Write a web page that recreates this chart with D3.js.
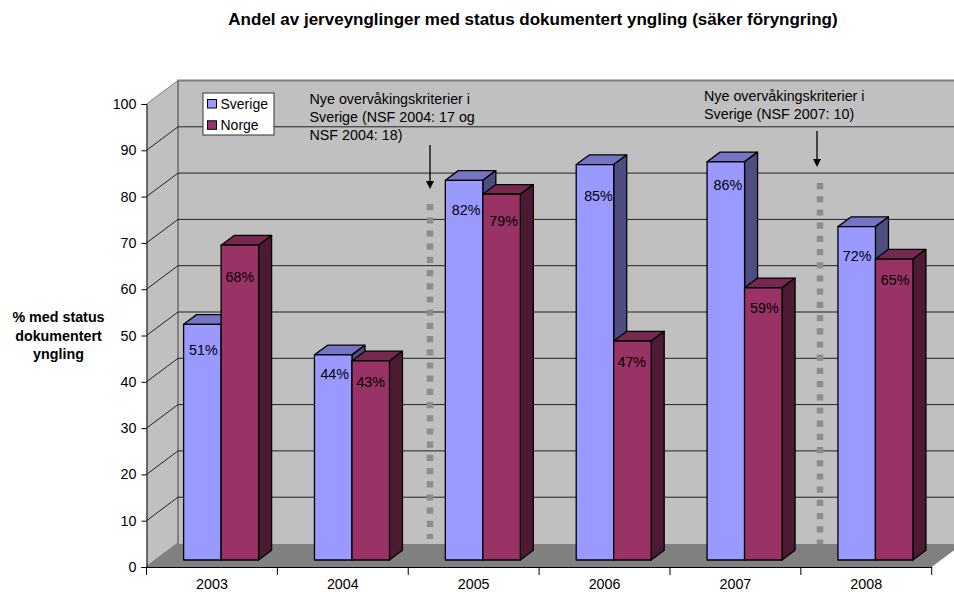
<!DOCTYPE html>
<html><head><meta charset="utf-8">
<script src="https://cdn.jsdelivr.net/npm/d3@7"></script>
<style>
html,body{margin:0;padding:0;background:#fff}
svg{display:block}
text{font-family:"Liberation Sans",Arial,sans-serif;fill:#000}
</style></head><body><div id="c"></div>
<script>
const years = ["2003","2004","2005","2006","2007","2008"];
const sverige = [50.9,44.3,82,85.4,86,72];
const norge = [68,43,79,47.3,58.8,65];
const seriesNames = ["Sverige","Norge"];
const yTicks = [0,10,20,30,40,50,60,70,80,90,100];
const title = "Andel av jerveynglinger med status dokumentert yngling (säker föryngring)";
const yTitle = ["% med status","dokumentert","yngling"];
const note1 = ["Nye overvåkingskriterier i","Sverige (NSF 2004: 17 og","NSF 2004: 18)"];
const note2 = ["Nye overvåkingskriterier i","Sverige (NSF 2007: 10)"];

const W=954,H=592;
const svg=d3.select("#c").append("svg").attr("width",W).attr("height",H);
const FS=14.3;
const y=d3.scaleLinear().domain([0,100]).range([567,104]);
const x=d3.scaleBand().domain(years).range([146.5,931.7]);
const DX=31.5,DY=-23.5;
const unit=y(0)-y(1);

// walls
const left=x.range()[0],right=x.range()[1];
svg.append("path").attr("d",`M${left},${y(0)}L${left+DX},${y(0)+DY}L${right+DX},${y(0)+DY}L${right},${y(0)}Z`).attr("fill","#808080");
svg.append("path").attr("d",`M${left},${y(0)}L${left},${y(100)}L${left+DX},${y(100)+DY}L${left+DX},${y(0)+DY}Z`).attr("fill","#c0c0c0");
svg.append("rect").attr("x",left+DX).attr("y",y(100)+DY).attr("width",right-left).attr("height",y(0)-y(100)).attr("fill","#c0c0c0");
svg.append("path").attr("d",`M${left},${y(0)}L${left+DX},${y(0)+DY}V${y(100)+DY}H${right+DX}`).attr("fill","none").attr("stroke","#808080").attr("stroke-width",2);
svg.append("path").attr("d",`M${left},${y(100)}L${left+DX},${y(100)+DY}`).attr("stroke","#808080").attr("stroke-width",1);

// gridlines
const grid=yTicks.filter(d=>d>0&&d<100);
svg.append("g").selectAll("path").data(grid).join("path")
  .attr("d",d=>`M${left},${y(d)}L${left+DX},${y(d)+DY}H${right+DX}`)
  .attr("fill","none").attr("stroke","#222").attr("stroke-width",1);

// dotted separators
[[430,204,539],[820,183,544]].forEach(([lx,a,b])=>{
  svg.append("line").attr("x1",lx).attr("x2",lx).attr("y1",a).attr("y2",b)
    .attr("stroke","#8c8c8c").attr("stroke-width",6.5).attr("stroke-dasharray","6.2 7");
});

// 3D bars
const inset=27.5+9.6, bw=37.5, baseY=560, dx=13, dy=-9.7;
const cols={Sverige:["#9999ff","#7575c4","#4d4d80"],Norge:["#993366","#772850","#4d1a33"]};
const bars=g=>g.attr("stroke","#000").attr("stroke-width",1.3).attr("stroke-linejoin","round");
const labelDrop={Sverige:[26,19,30,31,23,29],Norge:[32,21,27,21,20,21]};
const labelShift={Sverige:[1,1.5,2,3.5,2,0.5],Norge:[0,0,2,-0.7,1,1]};
const layer=svg.append("g");
years.forEach((yr,i)=>{
  [["Sverige",sverige[i],0],["Norge",norge[i],1]].forEach(([name,v,k])=>{
    const x0=x(yr)+inset+k*bw, top=baseY-v*unit, c=cols[name];
    const g=layer.append("g").call(bars);
    g.append("path").attr("d",`M${x0},${top}l${dx},${dy}h${bw}l${-dx},${-dy}Z`).attr("fill",c[1]);
    g.append("path").attr("d",`M${x0+bw},${top}l${dx},${dy}V${baseY+dy}l${-dx},${-dy}Z`).attr("fill",c[2]);
    g.append("rect").attr("x",x0).attr("y",top).attr("width",bw).attr("height",baseY-top).attr("fill",c[0]);
  });
});
years.forEach((yr,i)=>{
  [["Sverige",sverige[i],0],["Norge",norge[i],1]].forEach(([name,v,k])=>{
    const x0=x(yr)+inset+k*bw, top=baseY-v*unit;
    svg.append("text").attr("x",x0+bw/2+labelShift[name][i]).attr("y",top+labelDrop[name][i]+5)
      .attr("text-anchor","middle").attr("font-size",FS).text(Math.round(v)+"%");
  });
});

// axes
const axY=d3.axisLeft(y).tickValues(yTicks).tickSize(5).tickPadding(5);
const gy=svg.append("g").attr("transform",`translate(${left},0)`).call(axY);
gy.selectAll("text").attr("font-size",FS).attr("font-family",null);
gy.selectAll("path,line").attr("stroke","#000");
const axX=d3.axisBottom(x).tickSize(0).tickPadding(12).tickSizeOuter(0);
const gx=svg.append("g").attr("transform",`translate(0,${y(0)})`).call(axX);
gx.selectAll("text").attr("font-size",FS).attr("font-family",null);
gx.selectAll("path").attr("stroke","#000");
svg.append("g").selectAll("line").data(d3.range(years.length+1)).join("line")
  .attr("x1",i=>left+i*x.step()).attr("x2",i=>left+i*x.step()).attr("y1",y(0)).attr("y2",y(0)+8).attr("stroke","#000");

// titles
svg.append("text").attr("x",533).attr("y",25).attr("text-anchor","middle").attr("font-size",17).attr("font-weight","bold").text(title);
svg.append("g").selectAll("text").data(yTitle).join("text").attr("x",58.5).attr("y",(d,i)=>322+i*18.7)
  .attr("text-anchor","middle").attr("font-size",14.3).attr("font-weight","bold").text(d=>d);

// legend
svg.append("rect").attr("x",203).attr("y",93).attr("width",71).attr("height",42).attr("fill","#fff").attr("stroke","#333").attr("stroke-width",1);
seriesNames.forEach((n,i)=>{
  const sy=99.5+i*21.3;
  svg.append("rect").attr("x",207.5).attr("y",sy).attr("width",9).attr("height",8.5).attr("fill",cols[n][0]).attr("stroke","#000").attr("stroke-width",1);
  svg.append("text").attr("x",220.5).attr("y",sy+9.5).attr("font-size",14).text(n);
});

// notes
const notes=(lines,tx,ty,step)=>svg.append("g").selectAll("text").data(lines).join("text")
  .attr("x",tx).attr("y",(d,i)=>ty+i*step).attr("font-size",FS).text(d=>d);
notes(note1,309.5,104,18);
notes(note2,704,100.5,18.3);

// arrows
const arrow=(ax,a,b)=>{
  svg.append("line").attr("x1",ax).attr("x2",ax).attr("y1",a).attr("y2",b-7).attr("stroke","#000").attr("stroke-width",1.3);
  svg.append("path").attr("d",`M${ax-4},${b-8}H${ax+4}L${ax},${b}Z`).attr("fill","#000");
};
arrow(430,145,189);
arrow(817,131,167);
</script></body></html>
